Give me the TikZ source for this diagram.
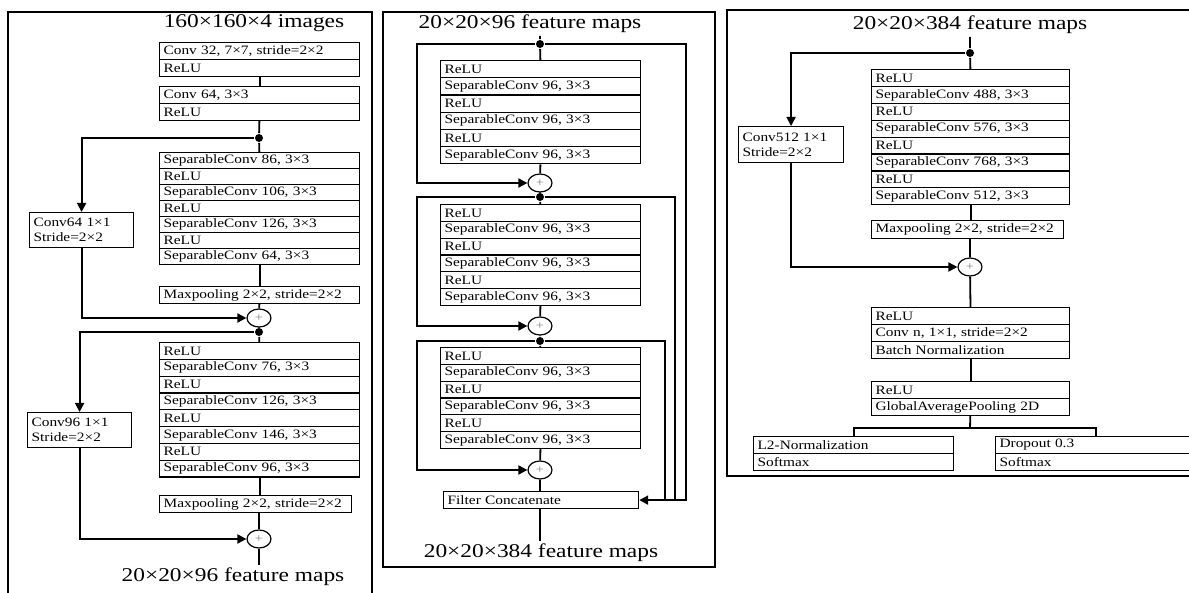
\documentclass[tikz,border=0pt]{standalone}
\usepackage{fontspec}
\setmainfont{Liberation Serif}[FakeStretch=1.2]
\usetikzlibrary{shapes,arrows.meta}

\begin{document}
\begin{tikzpicture}[
    x=1pt,
    y=-1pt,
    line width=1.8pt,
    >={Triangle[length=9pt,width=9pt]},
    lyr/.style={draw,line width=1.2pt,anchor=north west,align=left,inner xsep=4pt,inner ysep=0pt,text width=192pt,minimum height=16.8pt,font=\fontsize{12.8}{14}\selectfont},
    sc/.style={draw,line width=1.2pt,anchor=north west,align=left,inner xsep=4pt,inner ysep=0pt,text width=96pt,minimum height=35pt,font=\fontsize{12.8}{15}\selectfont},
    sum/.style={ellipse,draw,line width=1.2pt,minimum width=24pt,minimum height=18pt,inner sep=0pt,text=gray,font=\fontsize{12}{12}\selectfont},
    jn/.style={circle,fill,inner sep=0pt,minimum size=8pt},
    ttl/.style={inner sep=2pt,font=\fontsize{19.5}{20}\selectfont}
    ]
    \clip (0,0) rectangle (1189,593);
    % frames
    \draw (8,12) rectangle (372,600);
    \draw (383,12) rectangle (715,567);
    \draw (727,10) rectangle (1200,476);

    % left panel
    \node[ttl] (t1) at (254,23) {160×160×4 images};
    \node[lyr,minimum height=17pt] (a1) at (159,42) {Conv 32, 7×7, stride=2×2};
    \node[lyr,minimum height=17pt] (a2) at (159,59) {ReLU};
    \node[lyr,minimum height=17pt] (a3) at (159,86) {Conv 64, 3×3};
    \node[lyr,minimum height=17pt] (a4) at (159,103) {ReLU};
    \node[jn] (j1) at (259,138) {};
    \node[lyr,minimum height=16pt] (a5) at (159,152) {SeparableConv 86, 3×3};
    \node[lyr,minimum height=16pt] (a6) at (159,168) {ReLU};
    \node[lyr,minimum height=16pt] (a7) at (159,184) {SeparableConv 106, 3×3};
    \node[lyr,minimum height=16pt] (a8) at (159,200) {ReLU};
    \node[lyr,minimum height=16pt] (a9) at (159,216) {SeparableConv 126, 3×3};
    \node[lyr,minimum height=16pt] (a10) at (159,232) {ReLU};
    \node[lyr,minimum height=16pt] (a11) at (159,248) {SeparableConv 64, 3×3};
    \node[lyr,minimum height=17pt] (a12) at (159,286) {Maxpooling 2×2, stride=2×2};
    \node[sc] (k1) at (29,212) {Conv64 1×1\\Stride=2×2};
    \node[sum] (s1) at (259,318) {+};
    \node[jn] (j2) at (259,332) {};
    \node[lyr] (a13) at (159,342) {ReLU};
    \node[lyr] (a14) at (159,358.8) {SeparableConv 76, 3×3};
    \node[lyr] (a15) at (159,375.6) {ReLU};
    \node[lyr] (a16) at (159,392.4) {SeparableConv 126, 3×3};
    \node[lyr] (a17) at (159,409.2) {ReLU};
    \node[lyr] (a18) at (159,426) {SeparableConv 146, 3×3};
    \node[lyr] (a19) at (159,442.8) {ReLU};
    \node[lyr] (a20) at (159,459.6) {SeparableConv 96, 3×3};
    \node[lyr,text width=184pt] (a21) at (159,495) {Maxpooling 2×2, stride=2×2};
    \node[sc] (k2) at (27,412) {Conv96 1×1\\Stride=2×2};
    \node[sum] (s2) at (259,539) {+};
    \node[ttl] (t2) at (233,577) {20×20×96 feature maps};

    % trunk
    \draw (a2) -- (a3);
    \draw (a4) -- (j1) -- (a5);
    \draw (a11) -- (a12);
    \draw (a12) -- (s1) -- (j2) -- (a13);
    \draw (a20.south) -- (a20.south |- a21.north);
    \draw (a21.south -| s2) -- (s2);
    \draw (s2) -- (s2 |- t2.north);
    % shortcut
    \draw[->] (j1) -| (k1);
    \draw[->] (k1) |- (s1);
    \draw[->] (j2) -| (k2);
    \draw[->] (k2) |- (s2);

    % middle panel
    \node[ttl] (t3) at (530,24) {20×20×96 feature maps};
    \node[jn] (j3) at (540,44) {};
    \node[lyr,minimum height=17.2pt] (b1) at (440,60) {ReLU};
    \node[lyr,minimum height=17.2pt] (b2) at (440,77.2) {SeparableConv 96, 3×3};
    \node[lyr,minimum height=17.2pt] (b3) at (440,94.4) {ReLU};
    \node[lyr,minimum height=17.2pt] (b4) at (440,111.6) {SeparableConv 96, 3×3};
    \node[lyr,minimum height=17.2pt] (b5) at (440,128.8) {ReLU};
    \node[lyr,minimum height=17.2pt] (b6) at (440,146) {SeparableConv 96, 3×3};
    \node[sum] (s3) at (540,183) {+};
    \node[jn] (j4) at (540,197) {};
    \node[lyr] (b7) at (440,204) {ReLU};
    \node[lyr] (b8) at (440,220.8) {SeparableConv 96, 3×3};
    \node[lyr] (b9) at (440,237.6) {ReLU};
    \node[lyr] (b10) at (440,254.4) {SeparableConv 96, 3×3};
    \node[lyr] (b11) at (440,271.2) {ReLU};
    \node[lyr] (b12) at (440,288) {SeparableConv 96, 3×3};
    \node[sum] (s4) at (540,326) {+};
    \node[jn] (j5) at (540,341) {};
    \node[lyr] (b13) at (440,347) {ReLU};
    \node[lyr] (b14) at (440,363.8) {SeparableConv 96, 3×3};
    \node[lyr] (b15) at (440,380.6) {ReLU};
    \node[lyr] (b16) at (440,397.4) {SeparableConv 96, 3×3};
    \node[lyr] (b17) at (440,414.2) {ReLU};
    \node[lyr] (b18) at (440,431) {SeparableConv 96, 3×3};
    \node[sum] (s5) at (540,470) {+};
    \node[lyr,text width=187pt,minimum height=17pt] (b19) at (443,491) {Filter Concatenate};
    \node[ttl] (t4) at (541,553) {20×20×384 feature maps};
    \coordinate (l1) at (417,0);
    \coordinate (r1) at (686,0);
    \coordinate (r2) at (675,0);
    \coordinate (r3) at (665,0);

    % trunk
    \draw (t3.south -| j3) -- (j3) -- (b1);
    \draw (b6) -- (s3) -- (j4) -- (b7);
    \draw (b12) -- (s4) -- (j5) -- (b13);
    \draw (b18) -- (s5) -- (b19.north -| s5);
    \draw (b19.south -| s5) -- (s5 |- t4.north);
    % left loops
    \draw[->] (j3) -| (l1 |- s3) -- (s3);
    \draw[->] (j4) -| (l1 |- s4) -- (s4);
    \draw[->] (j5) -| (l1 |- s5) -- (s5);
    % right loops
    \draw[->] (j3) -| (r1 |- b19) -- (b19);
    \draw (j4) -| (r2 |- b19);
    \draw (j5) -| (r3 |- b19);

    % right panel
    \node[ttl] (t5) at (970,25) {20×20×384 feature maps};
    \node[jn] (j6) at (970,53) {};
    \node[lyr,text width=190pt,minimum height=16.9pt] (c1) at (871,69) {ReLU};
    \node[lyr,text width=190pt,minimum height=16.9pt] (c2) at (871,85.9) {SeparableConv 488, 3×3};
    \node[lyr,text width=190pt,minimum height=16.9pt] (c3) at (871,102.8) {ReLU};
    \node[lyr,text width=190pt,minimum height=16.9pt] (c4) at (871,119.7) {SeparableConv 576, 3×3};
    \node[lyr,text width=190pt,minimum height=16.9pt] (c5) at (871,136.6) {ReLU};
    \node[lyr,text width=190pt,minimum height=16.9pt] (c6) at (871,153.5) {SeparableConv 768, 3×3};
    \node[lyr,text width=190pt,minimum height=16.9pt] (c7) at (871,170.4) {ReLU};
    \node[lyr,text width=190pt,minimum height=16.9pt] (c8) at (871,187.3) {SeparableConv 512, 3×3};
    \node[lyr,text width=184pt,minimum height=18pt] (c9) at (871,220) {Maxpooling 2×2, stride=2×2};
    \node[sc,text width=97pt,minimum height=36pt] (k3) at (738,126) {Conv512 1×1\\Stride=2×2};
    \node[sum] (s6) at (970,267) {+};
    \node[lyr,text width=190pt,minimum height=17pt] (c10) at (871,307) {ReLU};
    \node[lyr,text width=190pt,minimum height=17pt] (c11) at (871,324) {Conv n, 1×1, stride=2×2};
    \node[lyr,text width=190pt,minimum height=17pt] (c12) at (871,341) {Batch Normalization};
    \node[lyr,text width=190pt,minimum height=17pt] (c13) at (871,381) {ReLU};
    \node[lyr,text width=190pt,minimum height=17pt] (c14) at (871,398) {GlobalAveragePooling 2D};
    \coordinate (o1) at (970,428);
    \node[lyr,minimum height=17pt] (c15) at (753,436) {L2-Normalization};
    \node[lyr,minimum height=17pt] (c16) at (753,453) {Softmax};
    \node[lyr,minimum height=17pt] (c17) at (995,436) {Dropout 0.3};
    \node[lyr,minimum height=17pt] (c18) at (995,453) {Softmax};

    % trunk
    \draw (t5.south -| j6) -- (j6) -- (c1);
    \draw (c8.south) -- (c8.south |- c9.north);
    \draw (c9.south -| s6) -- (s6) -- (c10);
    \draw (c12) -- (c13);
    \draw (c14) -- (o1);
    % heads
    \draw (c15.north) |- (o1) -| (c17.north);
    % shortcut
    \draw[->] (j6) -| (k3);
    \draw[->] (k3) |- (s6);
  \end{tikzpicture}
\end{document}
